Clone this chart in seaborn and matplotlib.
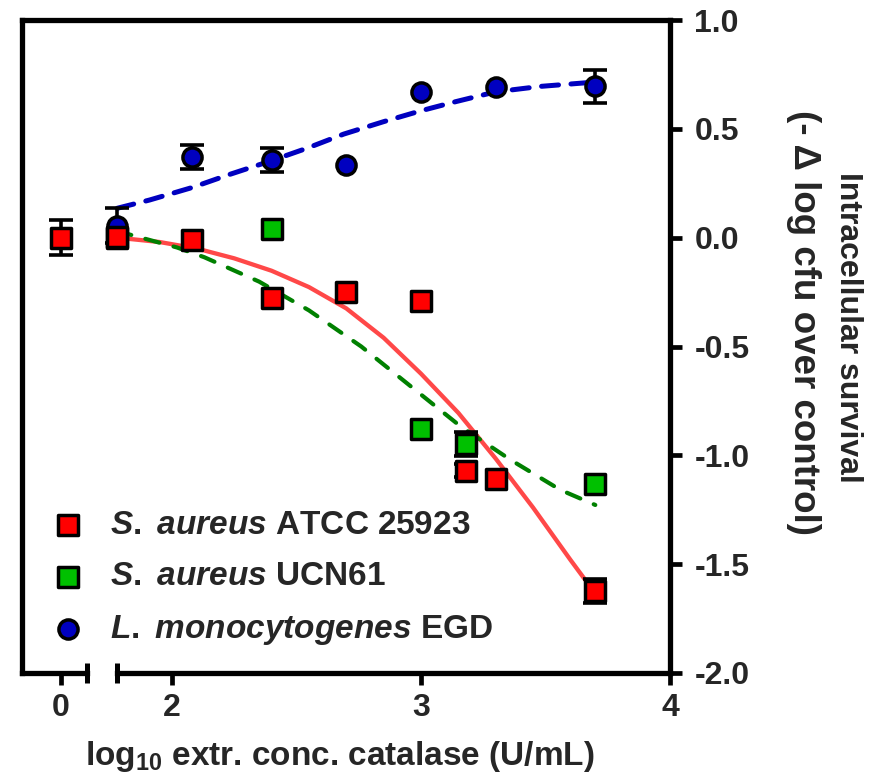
import numpy as np
import pandas as pd
import seaborn as sns
import matplotlib.pyplot as plt

# --- data ---
x_atcc = [0, 1.78, 2.08, 2.40, 2.70, 3.00, 3.18, 3.30, 3.70]
y_atcc = [0.0, 0.005, -0.01, -0.275, -0.25, -0.29, -1.07, -1.11, -1.625]
e_atcc = [0.08, 0, 0, 0, 0, 0, 0.03, 0, 0.055]

x_ucn = [1.78, 2.40, 3.00, 3.18, 3.70]
y_ucn = [0.0, 0.04, -0.88, -0.95, -1.13]
e_ucn = [0, 0, 0, 0.055, 0]

x_lm = [1.78, 2.08, 2.40, 2.70, 3.00, 3.30, 3.70]
y_lm = [0.055, 0.37, 0.357, 0.333, 0.667, 0.69, 0.695]
e_lm = [0.08, 0.054, 0.055, 0, 0, 0, 0.077]

# fitted curves (traced)
fx_atcc = [1.78, 1.95, 2.10, 2.25, 2.40, 2.55, 2.70, 2.85, 3.00, 3.15, 3.30, 3.45, 3.60, 3.70]
fy_atcc = [0.0, -0.02, -0.05, -0.095, -0.152, -0.227, -0.325, -0.46, -0.625, -0.805, -1.015, -1.24, -1.48, -1.635]
fx_ucn = [1.78, 2.02, 2.13, 2.35, 2.55, 2.76, 2.96, 3.16, 3.36, 3.56, 3.70]
fy_ucn = [0.03, -0.045, -0.09, -0.202, -0.334, -0.50, -0.684, -0.868, -1.021, -1.159, -1.228]
fx_lm = [1.78, 1.91, 2.08, 2.23, 2.39, 2.54, 2.69, 2.85, 3.00, 3.14, 3.30, 3.48, 3.70]
fy_lm = [0.135, 0.173, 0.23, 0.29, 0.35, 0.41, 0.476, 0.533, 0.583, 0.625, 0.67, 0.695, 0.715]

labels = [r"$\mathit{S.}$ $\mathit{aureus}$ ATCC 25923",
          r"$\mathit{S.}$ $\mathit{aureus}$ UCN61",
          r"$\mathit{L.}$ $\mathit{monocytogenes}$ EGD"]
xticks = [0, 2, 3, 4]
xticklabels = ["0", "2", "3", "4"]
yticks = [1.0, 0.5, 0.0, -0.5, -1.0, -1.5, -2.0]
yticklabels = ["1.0", "0.5", "0.0", "-0.5", "-1.0", "-1.5", "-2.0"]
ylabel_lines = ["Intracellular survival", "(- Δ log cfu over control)"]

sns.set_style("ticks")
plt.rcParams['font.family'] = ['Liberation Sans', 'DejaVu Sans']
plt.rcParams['font.weight'] = 'bold'
plt.rcParams['axes.unicode_minus'] = False
plt.rcParams['mathtext.fontset'] = 'custom'
plt.rcParams['mathtext.rm'] = 'Liberation Sans:bold'
plt.rcParams['mathtext.bf'] = 'Liberation Sans:bold'
plt.rcParams['mathtext.it'] = 'Liberation Sans:italic:bold'

fig = plt.figure(figsize=(8.77, 7.76), dpi=100)
ax = fig.add_axes([22 / 877, 1 - 673 / 776, 648 / 877, 653 / 776])

# broken x axis: control (0) squeezed in at the left
kx = [-5, 1, 1.78, 10]
ks = [1.035, 1.659, 1.78, 10]
fwd = lambda v: np.interp(v, kx, ks)
inv = lambda v: np.interp(v, ks, kx)
ax.set_xscale('function', functions=(fwd, inv))

# curves
sns.lineplot(x=fx_atcc, y=fy_atcc, ax=ax, color='#ff4848', lw=3.1, zorder=2)
sns.lineplot(x=fx_ucn, y=fy_ucn, ax=ax, color='#008000', lw=3.0, zorder=2,
             linestyle=(0, (3.5, 3.5)), dash_capstyle='round')
sns.lineplot(x=fx_lm, y=fy_lm, ax=ax, color='#0000c0', lw=3.6, zorder=2,
             linestyle=(0, (3.4, 2.5)), dash_capstyle='round')

# error bars (only where visible)
for xs, ys, es in [(x_lm, y_lm, e_lm), (x_ucn, y_ucn, e_ucn), (x_atcc, y_atcc, e_atcc)]:
    xs, ys, es = np.array(xs), np.array(ys), np.array(es)
    m = es > 0
    ax.errorbar(xs[m], ys[m], yerr=es[m], fmt='none', ecolor='black',
                elinewidth=2.6, capsize=8.6, capthick=2.6, zorder=2.5, clip_on=False)

# points
sns.scatterplot(x=x_lm, y=y_lm, ax=ax, marker='o', s=190, color='#0000c0',
                edgecolor='black', linewidth=2.5, zorder=3, label=labels[2], clip_on=False)
sns.scatterplot(x=x_ucn, y=y_ucn, ax=ax, marker='s', s=190, color='#00c000',
                edgecolor='black', linewidth=2.5, zorder=3, label=labels[1], clip_on=False)
sns.scatterplot(x=x_atcc, y=y_atcc, ax=ax, marker='s', s=190, color='#ff0000',
                edgecolor='black', linewidth=2.5, zorder=3, label=labels[0], clip_on=False)

ax.set_xlim(-1.513, 4.0)
ax.set_ylim(-2.0, 1.0)
ax.set_xticks(xticks)
ax.set_xticklabels(xticklabels)
ax.set_yticks(yticks)
ax.set_yticklabels(yticklabels)
ax.yaxis.tick_right()
ax.tick_params(axis='both', direction='out', length=8.6, width=3.4, labelsize=23, color='black')
ax.tick_params(axis='x', pad=6)
ax.tick_params(axis='y', pad=9)

for side in ['left', 'top', 'right']:
    ax.spines[side].set_linewidth(3.8)
    ax.spines[side].set_color('black')
ax.spines['bottom'].set_visible(False)

# bottom axis drawn in two pieces with break caps
tr = ax.get_xaxis_transform()
ax.plot([-1.513, 1.0], [0, 0], transform=tr, color='black', lw=3.8,
        solid_capstyle='projecting', clip_on=False, zorder=4)
ax.plot([1.78, 4.0], [0, 0], transform=tr, color='black', lw=3.8,
        solid_capstyle='projecting', clip_on=False, zorder=4)
ax.plot([1.0, 1.78], [0, 0], transform=tr, ls='none', marker='|', ms=14,
        mew=3.6, color='black', clip_on=False, zorder=4)

ax.set_xlabel(r"log$_{10}$ extr. conc. catalase (U/mL)", fontsize=24, fontweight='bold',
              va='center')
ax.xaxis.set_label_coords(0.49, -0.128)

# right-hand axis title, two rotated lines
fig.text(848 / 877, 1 - 327 / 776, ylabel_lines[0], rotation=270, fontsize=23,
         fontweight='bold', ha='center', va='center', rotation_mode='anchor')
fig.text(804 / 877, 1 - 322 / 776, ylabel_lines[1], rotation=270, fontsize=26.5,
         fontweight='bold', ha='center', va='center', rotation_mode='anchor')

handles, labs = ax.get_legend_handles_labels()
order = [labs.index(l) for l in labels]
ax.legend([handles[i] for i in order], [labs[i] for i in order],
          loc='center left', bbox_to_anchor=(0.046, 0.145), frameon=False,
          fontsize=24, handlelength=0.95, handletextpad=0.8, labelspacing=0.62,
          borderpad=0, borderaxespad=0)

fig.savefig('out.png', dpi=100)
